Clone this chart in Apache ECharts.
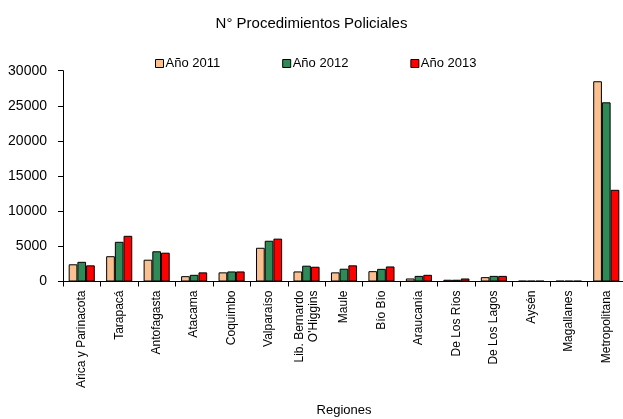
<!DOCTYPE html>
<html><head><meta charset="utf-8">
<script src="https://cdn.jsdelivr.net/npm/echarts@6/dist/echarts.min.js"></script>
<style>html,body{margin:0;padding:0;background:#fff}#c{width:623px;height:419px}</style>
</head><body><div id="c"></div>
<script>
const categories = ["Arica y Parinacota","Tarapacá","Antofagasta","Atacama","Coquimbo","Valparaíso","Lib. Bernardo\nO'Higgins","Maule","Bío Bío","Araucanía","De Los Ríos","De Los Lagos","Aysén","Magallanes","Metropolitana"];
const year2011 = [2450, 3600, 3100, 760, 1300, 4800, 1430, 1300, 1470, 430, 250, 620, 100, 100, 28500];
const year2012 = [2800, 5650, 4300, 950, 1430, 5800, 2250, 1820, 1800, 800, 250, 800, 100, 100, 25500];
const year2013 = [2300, 6500, 4100, 1300, 1430, 6100, 2100, 2300, 2140, 950, 430, 800, 100, 100, 13050];
const seriesNames = ["Año 2011","Año 2012","Año 2013"];
const yTicks = {min: 0, max: 30000, interval: 5000};

const colors = ['#FAC090', '#2E8B57', '#FF0000'];
const font = 'Liberation Sans, Arial, sans-serif';
const chart = echarts.init(document.getElementById('c'), null, {renderer: 'canvas'});
const mk = (name, data, i) => ({
  name, type: 'bar', data,
  barWidth: 8.7, barGap: '0%',
  itemStyle: {color: colors[i], borderColor: '#000', borderWidth: 1},
  emphasis: {disabled: true}
});
chart.setOption({
  animation: false,
  textStyle: {fontFamily: font},
  title: {
    text: 'N° Procedimientos Policiales', left: 'center', top: 11,
    textStyle: {fontFamily: font, fontSize: 15, fontWeight: 'normal', color: '#000'}
  },
  legend: {
    data: seriesNames, left: 150, top: 52, itemWidth: 8, itemHeight: 8, itemGap: 62,
    icon: 'rect',
    itemStyle: {borderColor: '#000', borderWidth: 1},
    textStyle: {fontFamily: font, fontSize: 13, color: '#000', padding: [0,0,0,-3]}
  },
  grid: {left: 63, right: -2, top: 70.7, bottom: 137.5, containLabel: false, outerBoundsMode: 'none'},
  xAxis: {
    type: 'category', data: categories,
    name: 'Regiones', nameLocation: 'middle', nameGap: 122,
    nameTextStyle: {fontFamily: font, fontSize: 13, color: '#000'},
    axisLine: {lineStyle: {color: '#000', width: 1}},
    axisTick: {show: true, length: 5, alignWithLabel: false, lineStyle: {color: '#000'}},
    axisLabel: {rotate: 90, margin: 9, fontFamily: font, fontSize: 12, color: '#000', interval: 0, lineHeight: 14}
  },
  yAxis: {
    type: 'value', min: yTicks.min, max: yTicks.max, interval: yTicks.interval,
    axisLine: {show: true, lineStyle: {color: '#000', width: 1}},
    axisTick: {show: true, length: 5, lineStyle: {color: '#000'}},
    splitLine: {show: false},
    axisLabel: {margin: 16, fontFamily: font, fontSize: 14, color: '#000', formatter: v => String(v)}
  },
  series: [mk(seriesNames[0], year2011, 0), mk(seriesNames[1], year2012, 1), mk(seriesNames[2], year2013, 2)]
});
</script></body></html>
